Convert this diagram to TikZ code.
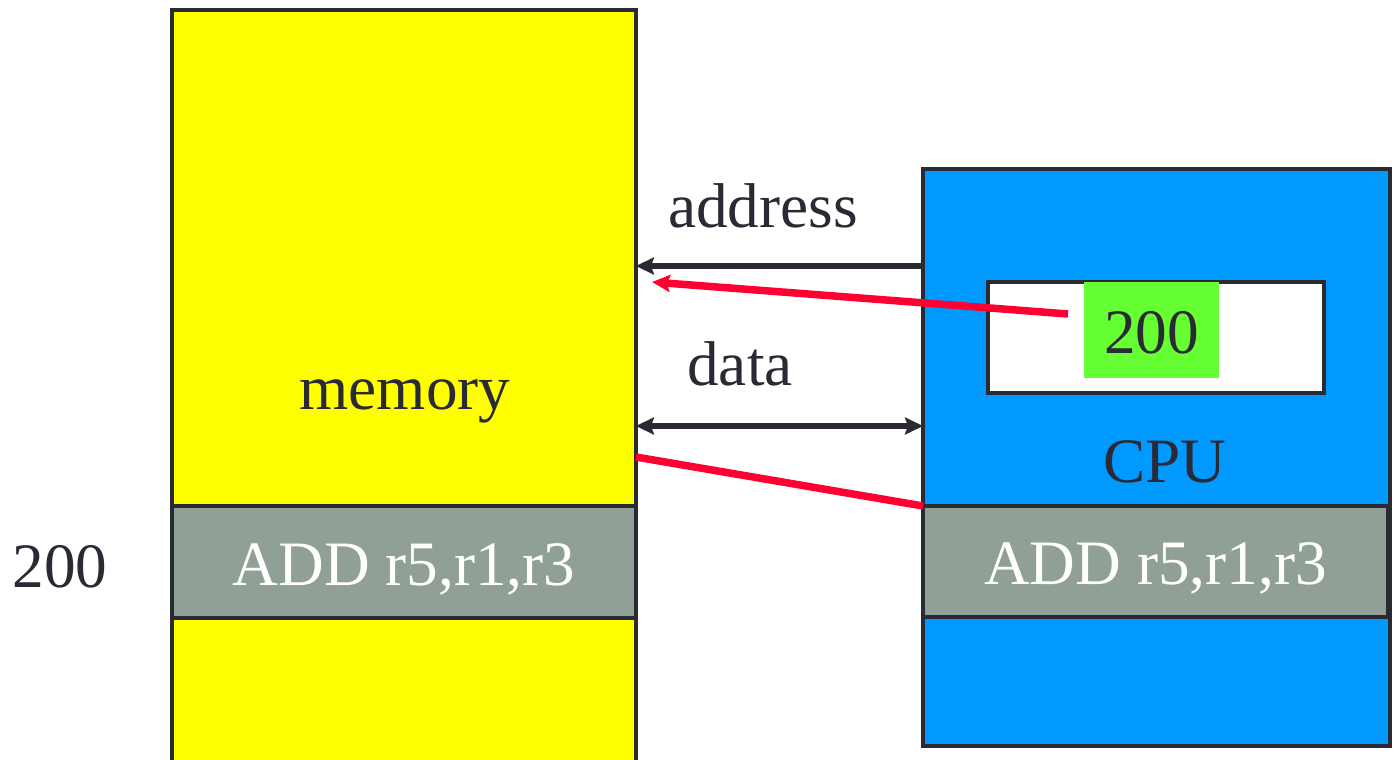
\documentclass[tikz,border=0pt]{standalone}
\usepackage{fontspec}
\setmainfont{Liberation Serif}
\usetikzlibrary{arrows.meta,positioning}
\definecolor{memyellow}{HTML}{FFFF00}
\definecolor{cpublue}{HTML}{0099FF}
\definecolor{rowgray}{HTML}{91A096}
\definecolor{valgreen}{HTML}{66FF33}
\definecolor{hotred}{HTML}{FF0033}
\definecolor{ink}{HTML}{2A2A35}
\tikzset{
  box/.style={draw=ink, line width=0.07cm, inner sep=0pt, outer sep=0pt, anchor=north west},
  rowtext/.style={text=white, font=\fontsize{36}{42}\selectfont, text height=0.94cm, text depth=0pt},
  txt/.style={text=ink, font=\fontsize{36}{42}\selectfont, inner sep=0pt, anchor=base},
  bus/.style={draw=ink, line width=0.11cm},
  hot/.style={draw=hotred, line width=0.15cm},
}

\begin{document}
\begin{tikzpicture}[x=0.02cm, y=-0.02cm, >={Stealth[length=0.36cm,width=0.34cm,inset=0.06cm]}]
  \clip (0,0) rectangle (1393,760);
  \fill[white] (0,0) rectangle (1393,760);
  % memory
  \node[box, fill=memyellow, minimum width=9.28cm, minimum height=16cm] (mem) at (172,10) {};
  \node[box, fill=rowgray, minimum width=9.28cm, minimum height=2.24cm, rowtext] (memrow) at (172,506) {ADD r5,r1,r3};
  \node[txt] (memlbl) at (405,409) {memory};
  \node[txt] (addr) at (60,587) {200};
  % cpu
  \node[box, fill=cpublue, minimum width=9.34cm, minimum height=11.54cm] (cpu) at (923,169) {};
  \node[box, fill=white, minimum width=6.72cm, minimum height=2.22cm] (reg) at (988,282) {};
  \node[box, draw=none, fill=valgreen, minimum width=2.7cm, minimum height=1.92cm, rowtext, text=ink] (regval) at (1084,282) {200};
  \node[txt] (cpulbl) at (1165,482) {CPU};
  \node[box, fill=rowgray, minimum width=9.3cm, minimum height=2.22cm, rowtext] (cpurow) at (923,506) {ADD r5,r1,r3};
  % buses
  \draw[bus, <-] (mem.east |- 0,266) -- (cpu.west |- 0,266);
  \node[txt] (addrlbl) at (763,228) {address};
  \draw[bus, <->] (mem.east |- 0,426) -- (cpu.west |- 0,426);
  \node[txt] (datalbl) at (740,385) {data};
  % red lines
  \coordinate (pcout) at (1068,314);
  \coordinate (pcin) at (652,282);
  \draw[hot, ->] (pcout) -- (pcin);
  \draw[hot] (mem.east |- 0,457) -- (cpurow.north west);
\end{tikzpicture}
\end{document}
